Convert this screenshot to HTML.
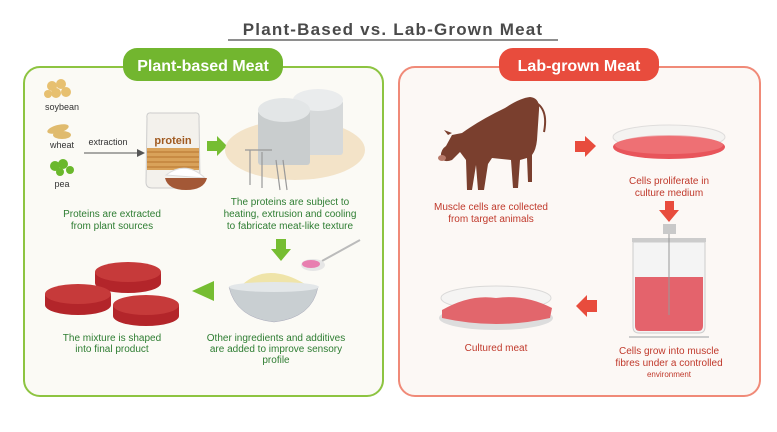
<!DOCTYPE html>
<html><head><meta charset="utf-8"><style>
html,body{margin:0;padding:0;background:#fff;width:777px;height:432px;overflow:hidden}
svg{display:block}
text{font-family:"Liberation Sans",sans-serif}
</style></head><body>
<svg width="777" height="432" viewBox="0 0 777 432" xmlns="http://www.w3.org/2000/svg">
<text x="393" y="35" text-anchor="middle" font-size="17" font-weight="bold" fill="#4a4a4a" letter-spacing="1.2">Plant-Based vs. Lab-Grown Meat</text>
<line x1="228" y1="40" x2="558" y2="40" stroke="#4a4a4a" stroke-width="1.3"/>

<rect x="24" y="67" width="359" height="329" rx="16" fill="#fbfaf5" stroke="#8dc441" stroke-width="2"/>
<rect x="123" y="48" width="160" height="33" rx="14" fill="#72b62f"/>
<text x="203" y="71" text-anchor="middle" font-size="16" font-weight="bold" fill="#fff">Plant-based Meat</text>

<rect x="399" y="67" width="361" height="329" rx="16" fill="#fcf8f5" stroke="#f08a78" stroke-width="2"/>
<rect x="499" y="48" width="160" height="33" rx="14" fill="#e84c3d"/>
<text x="579" y="71" text-anchor="middle" font-size="16" font-weight="bold" fill="#fff">Lab-grown Meat</text>

<g fill="#e7c070"><circle cx="52" cy="86" r="5"/><circle cx="61" cy="84" r="5"/><circle cx="56" cy="93" r="5"/><circle cx="66" cy="92" r="5"/><circle cx="48" cy="94" r="4"/></g>
<text x="62" y="110" text-anchor="middle" font-size="9" fill="#333">soybean</text>
<g fill="#e0bb6e"><ellipse cx="58" cy="129" rx="11" ry="4" transform="rotate(-15 58 129)"/><ellipse cx="62" cy="135" rx="9" ry="4"/></g>
<text x="62" y="148" text-anchor="middle" font-size="9" fill="#333">wheat</text>
<g fill="#6ab82c"><circle cx="55" cy="166" r="5"/><circle cx="63" cy="164" r="5"/><circle cx="70" cy="170" r="4"/><circle cx="60" cy="172" r="4"/></g>
<text x="62" y="187" text-anchor="middle" font-size="9" fill="#333">pea</text>
<text x="108" y="145" text-anchor="middle" font-size="9" fill="#333">extraction</text>
<line x1="84" y1="153" x2="140" y2="153" stroke="#555" stroke-width="1"/>
<polygon points="145,153 137,149 137,157" fill="#555"/>

<path d="M147 118 Q146 112 152 113 L194 113 Q200 112 199 118 L200 182 Q200 188 194 188 L152 188 Q146 188 146 182 Z" fill="#f3f1ec" stroke="#ccc"/>
<rect x="147" y="148" width="52" height="22" fill="#d9a25a"/>
<g stroke="#b8742f" stroke-width="1"><line x1="147" y1="152" x2="199" y2="152"/><line x1="147" y1="157" x2="199" y2="157"/><line x1="147" y1="162" x2="199" y2="162"/><line x1="147" y1="167" x2="199" y2="167"/></g>
<text x="173" y="144" text-anchor="middle" font-size="11" font-weight="bold" fill="#a05a20">protein</text>
<path d="M166 175 Q186 160 205 178 Z" fill="#fff" stroke="#ddd"/>
<path d="M165 178 L207 178 Q204 190 186 190 Q168 190 165 178Z" fill="#a35836"/>
<polygon points="207,141 217,141 217,136 227,146 217,156 217,151 207,151" fill="#76bd32"/>

<ellipse cx="295" cy="150" rx="70" ry="30" fill="#f3e3c8"/>
<rect x="293" y="100" width="50" height="55" fill="#d6d9da" rx="3"/>
<ellipse cx="318" cy="100" rx="25" ry="11" fill="#eaeced"/>
<rect x="258" y="110" width="52" height="55" fill="#c9cdce" rx="3"/>
<ellipse cx="284" cy="110" rx="26" ry="12" fill="#e3e6e7"/>
<g stroke="#999" stroke-width="1.2"><line x1="250" y1="150" x2="250" y2="185"/><line x1="262" y1="152" x2="262" y2="188"/><line x1="245" y1="150" x2="272" y2="150"/><line x1="276" y1="160" x2="280" y2="190"/><line x1="283" y1="160" x2="287" y2="190"/></g>
<text x="290" y="205" text-anchor="middle" font-size="10" fill="#2e7d32">The proteins are subject to</text>
<text x="290" y="217" text-anchor="middle" font-size="10" fill="#2e7d32">heating, extrusion and cooling</text>
<text x="290" y="229" text-anchor="middle" font-size="10" fill="#2e7d32">to fabricate meat-like texture</text>
<text x="112" y="217" text-anchor="middle" font-size="10" fill="#2e7d32">Proteins are extracted</text>
<text x="112" y="229" text-anchor="middle" font-size="10" fill="#2e7d32">from plant sources</text>

<polygon points="276,239 286,239 286,249 291,249 281,261 271,249 276,249" fill="#76bd32"/>
<line x1="322" y1="261" x2="360" y2="240" stroke="#bbb" stroke-width="2"/>
<ellipse cx="313" cy="265" rx="12" ry="6" fill="#e6e6e6"/>
<ellipse cx="311" cy="264" rx="9" ry="4" fill="#e87fb0"/>
<path d="M243 284 Q268 262 305 284 Z" fill="#efe4a9"/>
<path d="M229 287 L318 287 Q312 318 274 322 Q236 318 229 287 Z" fill="#c9cfd2" stroke="#aab" stroke-width="0.5"/>
<ellipse cx="274" cy="287" rx="45" ry="5" fill="#e3e7e9"/>
<text x="276" y="341" text-anchor="middle" font-size="10" fill="#2e7d32">Other ingredients and additives</text>
<text x="276" y="352" text-anchor="middle" font-size="10" fill="#2e7d32">are added to improve sensory</text>
<text x="276" y="363" text-anchor="middle" font-size="10" fill="#2e7d32">profile</text>
<polygon points="214,286 214,281 192,291 214,301" fill="#76bd32"/>
<polygon points="203,286 214,286 214,296 203,296" fill="#76bd32"/>
<g fill="#b3252a">
<ellipse cx="128" cy="283" rx="33" ry="10"/><rect x="95" y="272" width="66" height="11"/><ellipse cx="128" cy="272" rx="33" ry="10" fill="#c63a3a"/>
<ellipse cx="78" cy="305" rx="33" ry="10"/><rect x="45" y="294" width="66" height="11"/><ellipse cx="78" cy="294" rx="33" ry="10" fill="#c63a3a"/>
<ellipse cx="146" cy="316" rx="33" ry="10"/><rect x="113" y="305" width="66" height="11"/><ellipse cx="146" cy="305" rx="33" ry="10" fill="#c63a3a"/>
</g>
<text x="112" y="341" text-anchor="middle" font-size="10" fill="#2e7d32">The mixture is shaped</text>
<text x="112" y="352" text-anchor="middle" font-size="10" fill="#2e7d32">into final product</text>

<!-- cow facing left -->
<g fill="#7a3f2e">
<path d="M452 135 L462 133 Q480 120 505 108 Q520 98 530 97 Q540 98 539 110 L537 140 Q536 150 532 155 L532 182 L528 182 L527 158 L520 160 L518 188 L513 188 L511 160 L492 158 L488 164 L484 190 L478 190 L476 165 L472 190 L467 190 L466 160 L460 152 L452 160 Q444 163 441 158 Q440 150 446 146 Z"/>
<path d="M538 104 Q548 112 544 132" stroke="#7a3f2e" stroke-width="2" fill="none"/>
<ellipse cx="442" cy="158" rx="4" ry="3" fill="#b87a6a"/>
<path d="M448 135 L444 130 L452 133 Z"/>
</g>
<text x="491" y="210" text-anchor="middle" font-size="10" fill="#c0392b">Muscle cells are collected</text>
<text x="491" y="222" text-anchor="middle" font-size="10" fill="#c0392b">from target animals</text>
<polygon points="575,141 585,141 585,136 596,146 585,157 585,152 575,152" fill="#e84c3d"/>
<ellipse cx="669" cy="147" rx="56" ry="12" fill="#e8555b"/>
<ellipse cx="669" cy="137" rx="56" ry="12" fill="#f0f0f0" stroke="#ccc" opacity="0.6"/>
<ellipse cx="669" cy="145" rx="54" ry="9" fill="#ee7074"/>
<text x="669" y="184" text-anchor="middle" font-size="10" fill="#c0392b">Cells proliferate in</text>
<text x="669" y="196" text-anchor="middle" font-size="10" fill="#c0392b">culture medium</text>
<polygon points="665,201 674,201 674,210 679,210 669,222 659,210 665,210" fill="#e84c3d"/>
<rect x="663" y="224" width="13" height="10" fill="#c9c9c9"/>
<rect x="632" y="238" width="74" height="4" fill="#ccc"/>
<path d="M633 242 L705 242 L705 327 Q705 333 699 333 L639 333 Q633 333 633 327 Z" fill="#f4f4f4" stroke="#ccc"/>
<path d="M635 277 L703 277 L703 326 Q703 331 698 331 L640 331 Q635 331 635 326 Z" fill="#e4636c"/>
<line x1="669" y1="234" x2="669" y2="315" stroke="#999" stroke-width="1"/>
<line x1="629" y1="337" x2="709" y2="337" stroke="#ccc" stroke-width="2"/>
<text x="669" y="354" text-anchor="middle" font-size="10" fill="#c0392b">Cells grow into muscle</text>
<text x="669" y="366" text-anchor="middle" font-size="10" fill="#c0392b">fibres under a controlled</text>
<text x="669" y="377" text-anchor="middle" font-size="8" fill="#c0392b">environment</text>
<polygon points="597,300 587,300 587,295 576,306 587,317 587,312 597,312" fill="#e84c3d"/>
<ellipse cx="496" cy="318" rx="57" ry="12" fill="#ddd"/>
<ellipse cx="496" cy="298" rx="55" ry="12" fill="#f3f3f3" stroke="#ccc" opacity="0.7"/>
<path d="M442 310 Q470 294 496 298 Q525 294 552 308 L550 318 Q496 330 442 318 Z" fill="#e2666c"/>
<text x="496" y="351" text-anchor="middle" font-size="10" fill="#c0392b">Cultured meat</text>
</svg>
</body></html>
